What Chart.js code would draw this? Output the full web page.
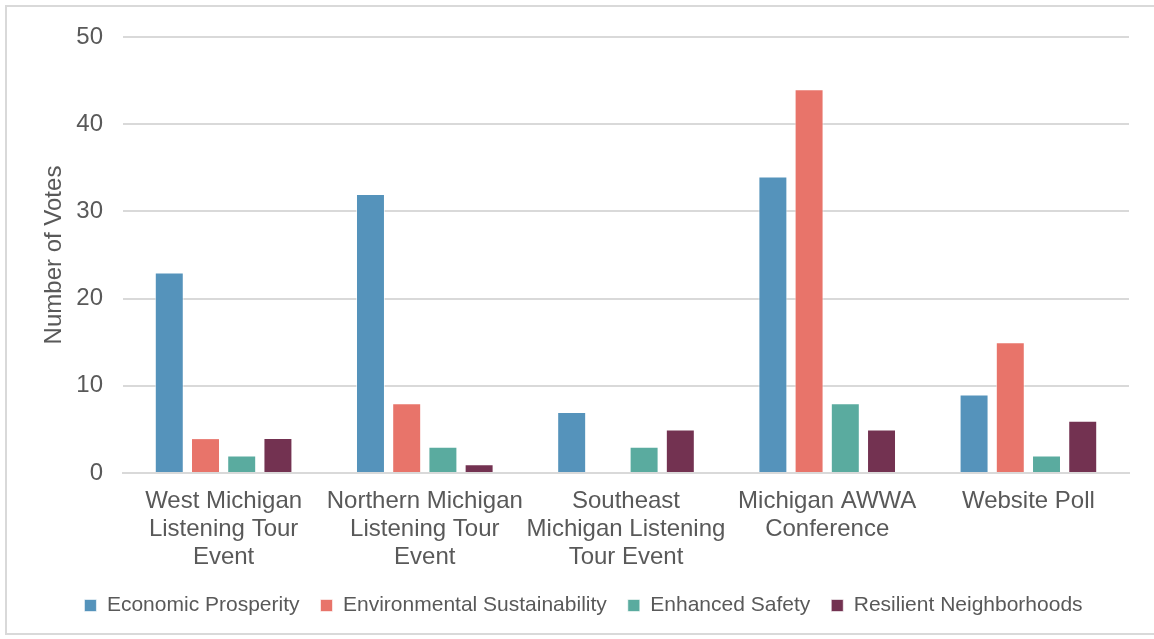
<!DOCTYPE html>
<html>
<head>
<meta charset="utf-8">
<script src="https://cdn.jsdelivr.net/npm/chart.js@4/dist/chart.umd.min.js"></script>
<style>
  html, body { margin: 0; padding: 0; background: #fff; }
  #wrap { position: relative; width: 1154px; height: 639px; overflow: hidden; }
  #frame { position: absolute; left: 5px; top: 5px; width: 1170px; height: 630px; border: 2px solid #d9d9d9; box-sizing: border-box; }
  canvas { position: absolute; left: 0; top: 0; }
</style>
</head>
<body>
<div id="wrap">
  <div id="frame"></div>
  <canvas id="c" width="1154" height="639"></canvas>
</div>
<script>
const categories = [
  ["West Michigan", "Listening Tour", "Event"],
  ["Northern Michigan", "Listening Tour", "Event"],
  ["Southeast", "Michigan Listening", "Tour Event"],
  ["Michigan AWWA", "Conference"],
  ["Website Poll"]
];
const economicProsperity = [23, 32, 7, 34, 9];
const environmentalSustainability = [4, 8, null, 44, 15];
const enhancedSafety = [2, 3, 3, 8, 2];
const resilientNeighborhoods = [4, 1, 5, 5, 6];
const yTicks = [0, 10, 20, 30, 40, 50];

const textColor = '#595959';
const font = "'Liberation Sans', Arial, sans-serif";

function ds(label, data, color) {
  return {
    label, data,
    backgroundColor: color,
    borderColor: 'rgba(255,255,255,0.6)',
    borderWidth: 1,
    categoryPercentage: 0.72,
    barPercentage: 0.8
  };
}

new Chart(document.getElementById('c'), {
  type: 'bar',
  data: {
    labels: categories,
    datasets: [
      ds('Economic Prosperity', economicProsperity, '#5593BB'),
      ds('Environmental Sustainability', environmentalSustainability, '#E8746A'),
      ds('Enhanced Safety', enhancedSafety, '#5AAB9F'),
      ds('Resilient Neighborhoods', resilientNeighborhoods, '#733251')
    ]
  },
  options: {
    responsive: false,
    animation: false,
    layout: { padding: { left: 38, right: 25, top: 37, bottom: 13 } },
    plugins: {
      legend: {
        position: 'bottom',
        labels: {
          color: textColor,
          font: { family: font, size: 21 },
          boxWidth: 12,
          boxHeight: 12,
          padding: 21
        }
      },
      tooltip: { enabled: false }
    },
    scales: {
      x: {
        afterFit: (scale) => { scale.height = 101; },
        grid: { display: false },
        border: { display: true, color: '#d9d9d9', width: 2 },
        ticks: {
          color: textColor,
          font: { family: font, size: 24, lineHeight: 1.17 },
          maxRotation: 0,
          autoSkip: false,
          padding: 6
        }
      },
      y: {
        min: 0, max: 50,
        afterBuildTicks: (scale) => { scale.ticks = yTicks.map(v => ({ value: v })); },
        afterFit: (scale) => { scale.width = 123 - 38; },
        grid: { color: '#d9d9d9', lineWidth: 2, drawTicks: false },
        border: { display: false },
        ticks: {
          color: textColor,
          font: { family: font, size: 24 },
          padding: 20
        },
        title: {
          display: true,
          text: 'Number of Votes',
          color: textColor,
          font: { family: font, size: 24 },
          padding: { top: 2, bottom: 4 }
        }
      }
    }
  }
});
</script>
</body>
</html>
